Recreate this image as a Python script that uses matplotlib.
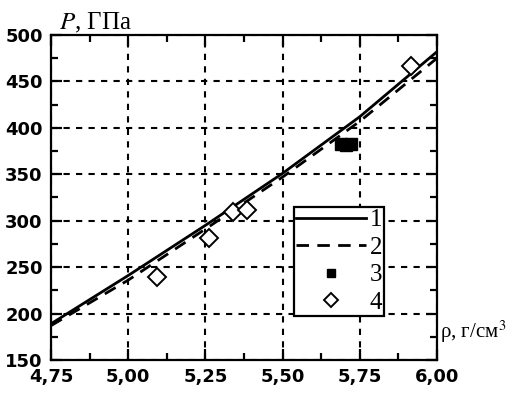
import matplotlib
matplotlib.use("Agg")
import matplotlib.pyplot as plt
from matplotlib.ticker import MultipleLocator

# density, g/cm^3 and pressure, GPa
rho_curve = [4.75, 5.00, 5.25, 5.50, 5.75, 6.00]
p_curve1 = [189, 241, 295, 351, 412, 482]
p_curve2 = [187, 236, 291, 347, 407, 475]

rho_set3 = [5.689, 5.705, 5.721]
p_set3 = [383, 381, 383]

rho_set4 = [5.093, 5.262, 5.339, 5.385, 5.916]
p_set4 = [239, 281, 309, 312, 467]

x_ticks = [4.75, 5.00, 5.25, 5.50, 5.75, 6.00]
x_tick_labels = ["4,75", "5,00", "5,25", "5,50", "5,75", "6,00"]
y_ticks = [150, 200, 250, 300, 350, 400, 450, 500]

plt.rcParams.update({
    "mathtext.fontset": "stix",
    "axes.linewidth": 1.6,
})

fig = plt.figure(figsize=(5.15, 3.94), dpi=100)
ax = fig.add_axes([0.099, 0.0863, 0.7495, 0.8249])

ax.plot(rho_curve, p_curve1, color="black", lw=2.0, label="1")
ax.plot(rho_curve, p_curve2, color="black", lw=2.0, ls=(0, (4.5, 3)), label="2")
ax.plot(rho_set3, p_set3, ls="none", marker="s", ms=8, color="black", label="3")
ax.plot(rho_set4, p_set4, ls="none", marker="D", ms=9, mfc="white",
        mec="black", mew=1.4, label="4")

ax.set_xlim(4.75, 6.00)
ax.set_ylim(150, 500)
ax.set_xticks(x_ticks)
ax.set_xticklabels(x_tick_labels)
ax.set_yticks(y_ticks)
ax.xaxis.set_minor_locator(MultipleLocator(0.125))
ax.yaxis.set_minor_locator(MultipleLocator(25))
ax.tick_params(which="both", direction="in", top=True, right=True,
               width=1.6, labelsize=13, pad=6)
ax.tick_params(which="major", length=8)
ax.tick_params(which="minor", length=5)
for lab in ax.get_xticklabels() + ax.get_yticklabels():
    lab.set_fontweight("bold")

ax.grid(True, which="major", color="black", lw=1.5, ls=(0, (3, 3)))

ax.text(0.02, 1.0, r"$P$, ГПа", transform=ax.transAxes, ha="left",
        va="bottom", fontsize=18, family="Liberation Serif")
ax.text(1.008, 0.045, r"ρ, г/см$^3$", transform=ax.transAxes, ha="left",
        va="bottom", fontsize=15, family="Liberation Serif")

leg = ax.legend(loc="upper left", bbox_to_anchor=(0.629, 0.471), numpoints=1,
                fontsize=18, frameon=True, fancybox=False, framealpha=1,
                handlelength=2.8, handletextpad=0.15, borderpad=0.08,
                labelspacing=0.2, borderaxespad=0)
leg.get_frame().set_edgecolor("black")
leg.get_frame().set_linewidth(1.6)
for t in leg.get_texts():
    t.set_family("Liberation Serif")
handles = leg.legend_handles
handles[2].set_markersize(6)
handles[3].set_markersize(7)

fig.savefig("out.png", dpi=100)
